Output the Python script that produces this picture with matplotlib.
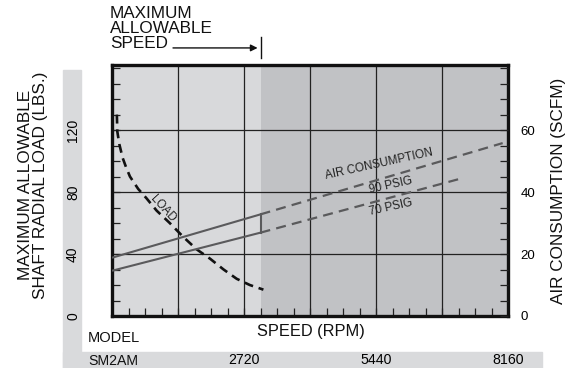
import matplotlib
matplotlib.use("Agg")
import matplotlib.pyplot as plt
import matplotlib.transforms as mtransforms
from matplotlib.patches import Rectangle
from matplotlib.ticker import MultipleLocator, FixedLocator

plt.rcParams['font.family'] = ['Liberation Sans', 'DejaVu Sans']

# ---------------- data ----------------
max_speed = 3060  # RPM, maximum allowable speed

load_rpm = [100, 110, 150, 220, 290, 370, 540, 710, 920, 1190, 1470, 1745, 2020, 2300, 2570, 2840, 3120]
load_lbs = [130, 119, 111, 102, 96, 90, 82, 76, 68, 60, 51, 43, 37, 30, 24, 20, 17]

air90_rpm = [0, 3060, 8050]
air90_scfm = [18.8, 32.8, 55.8]
air70_rpm = [0, 3060, 7200]
air70_scfm = [14.6, 26.9, 44.4]

x_major = [0, 1360, 2720, 4080, 5440, 6800, 8160]
x_labels = ['', '', '2720', '', '5440', '', '8160']
left_ticks = [0, 40, 80, 120]
right_ticks = [0, 20, 40, 60]
model_name = 'SM2AM'

# ---------------- figure ----------------
W, H = 580, 368
fig = plt.figure(figsize=(W / 100, H / 100), dpi=100)

def fx(px):
    return px / W

def fy(py):
    return 1 - py / H

# decorative gray bars (L-shape), behind everything
fig.patches.append(Rectangle((fx(63), fy(368)), fx(81) - fx(63), fy(70) - fy(368),
                             transform=fig.transFigure, color='#d9dadc', zorder=-5))
fig.patches.append(Rectangle((fx(63), fy(368)), fx(542) - fx(63), fy(352) - fy(368),
                             transform=fig.transFigure, color='#d9dadc', zorder=-5))

ax = fig.add_axes([fx(112), fy(316), fx(508) - fx(112), fy(65) - fy(316)])
ax.set_zorder(1)
ax.patch.set_visible(False)
ax.set_xlim(0, 8160)
ax.set_ylim(0, 162)

light = '#d8d9db'
dark = '#c1c2c5'
ax.axvspan(0, max_speed, color=light, zorder=0, lw=0)
ax.axvspan(max_speed, 8160, color=dark, zorder=0, lw=0)

# grid
ax.xaxis.set_major_locator(FixedLocator(x_major))
ax.set_xticklabels(x_labels)
ax.xaxis.set_minor_locator(MultipleLocator(340))
ax.set_yticks(left_ticks)
ax.set_yticklabels([str(t) for t in left_ticks], rotation=90, va='center')
ax.yaxis.set_minor_locator(MultipleLocator(10))
ax.grid(True, which='major', color='#222222', lw=0.9, zorder=1)

ax.tick_params(axis='x', which='both', direction='in', length=6, width=0.9,
               color='#222222', labelsize=10.2, pad=27, top=False)
ax.tick_params(axis='y', which='both', direction='in', length=6, width=0.9,
               color='#222222', labelsize=10, pad=23)

for s in ax.spines.values():
    s.set_linewidth(2.4)
    s.set_color('#111111')
    s.set_zorder(5)

# right axis (air consumption)
ax2 = ax.twinx()
ax2.set_zorder(2)
ax2.patch.set_visible(False)
ax2.set_ylim(0, 81)
ax2.set_yticks(right_ticks)
ax2.yaxis.set_minor_locator(MultipleLocator(5))
ax2.tick_params(axis='y', which='both', direction='in', length=6, width=0.9,
                color='#222222', labelsize=9.5, pad=9)
for s in ax2.spines.values():
    s.set_visible(False)

# air consumption lines: solid up to max speed, dashed beyond
gray = '#5a5a5c'
ax2.plot(air90_rpm[:2], air90_scfm[:2], color=gray, lw=1.5, solid_capstyle='butt', zorder=3)
ax2.plot(air70_rpm[:2], air70_scfm[:2], color=gray, lw=1.5, solid_capstyle='butt', zorder=3)
ax2.plot([air90_rpm[1], air70_rpm[1]], [air90_scfm[1], air70_scfm[1]], color=gray, lw=1.5, zorder=3)
ax2.plot(air90_rpm[1:], air90_scfm[1:], color=gray, lw=1.6, dashes=(4.5, 2.8), zorder=3)
ax2.plot(air70_rpm[1:], air70_scfm[1:], color=gray, lw=1.6, dashes=(4.5, 2.8), zorder=3)

# load curve
ax.plot(load_rpm, load_lbs, color='#111111', lw=1.9, dashes=(3.4, 2.2), zorder=4)

# curve labels
ax2.text(5530, 47.0, 'AIR CONSUMPTION', rotation=12.5, rotation_mode='anchor',
         ha='center', va='bottom', fontsize=8.4, color='#222222')
ax2.text(5740, 42.3, '90 PSIG', rotation=12.5, rotation_mode='anchor',
         ha='center', va='center', fontsize=8.4, color='#222222')
ax2.text(5740, 35.0, '70 PSIG', rotation=12.5, rotation_mode='anchor',
         ha='center', va='center', fontsize=8.4, color='#222222')
ax.text(1050, 69, 'LOAD', rotation=-48, rotation_mode='anchor',
        ha='center', va='center', fontsize=8.4, color='#222222')

# max speed annotation
trans = mtransforms.blended_transform_factory(ax.transData, ax.transAxes)
ax.plot([max_speed, max_speed], [1.028, 1.112], transform=trans, color='#111111',
        lw=1.0, clip_on=False)
ax.annotate('', xy=(max_speed - 60, 1.068), xycoords=trans,
            xytext=(1257, 1.068), textcoords=trans,
            arrowprops=dict(arrowstyle='-|>', color='#111111', lw=1.0,
                            mutation_scale=10, shrinkA=0, shrinkB=0))
fig.text(fx(110), fy(6), 'MAXIMUM\nALLOWABLE\nSPEED', ha='left', va='top',
         fontsize=12.3, linespacing=0.98, color='#111111')

# axis labels
ax.set_xlabel('SPEED (RPM)', fontsize=11.8, color='#111111')
ax.xaxis.set_label_coords((311 - 112) / 396, (316 - 324) / 251)
fig.text(fx(88), fy(338), 'MODEL', ha='left', va='center', fontsize=10.5, color='#111111')
fig.text(fx(88), fy(361), model_name, ha='left', va='center', fontsize=10.2, color='#111111')

fig.text(fx(33), fy(185), 'MAXIMUM ALLOWABLE\nSHAFT RADIAL LOAD (LBS.)', rotation=90,
         ha='center', va='center', fontsize=12.4, linespacing=1.05, color='#111111')
fig.text(fx(558), fy(191), 'AIR CONSUMPTION (SCFM)', rotation=90,
         ha='center', va='center', fontsize=12.3, color='#111111')

fig.savefig('out.png', dpi=100)
